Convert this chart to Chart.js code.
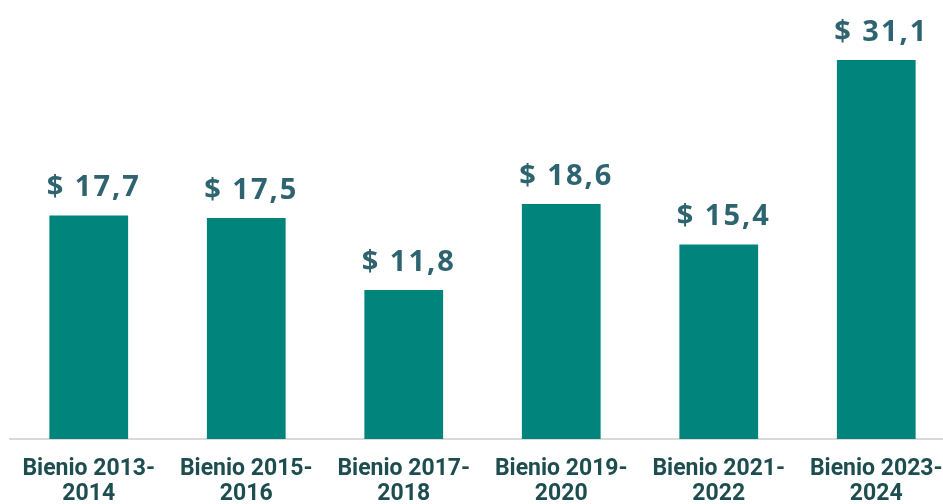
<!DOCTYPE html>
<html>
	<head>
		<meta charset="UTF-8">
		<title>Bienios</title>
		<script src="https://cdn.jsdelivr.net/npm/chart.js"></script>
		<style>
			* {padding: 0; margin: 0;}
			body {width: 943px; height: 504px; overflow: hidden; background: #fff;}
		</style>
	</head>
	<body>
		<canvas id="myChart" width="960" height="504"></canvas>
		<script>
			// datos del gráfico
			const bienios = [
				['Bienio 2013-', '2014'],
				['Bienio 2015-', '2016'],
				['Bienio 2017-', '2018'],
				['Bienio 2019-', '2020'],
				['Bienio 2021-', '2022'],
				['Bienio 2023-', '2024']
			];
			const valores = [17.7, 17.5, 11.8, 18.6, 15.4, 31.1];
			const ejeMax = 30;

			// etiquetas "$ 17,7" encima de cada barra
			const etiquetas = {
				id: 'etiquetas',
				afterDatasetsDraw(chart) {
					const ctx = chart.ctx;
					const meta = chart.getDatasetMeta(0);
					ctx.save();
					ctx.font = 'bold 29px "Open Sans"';
					ctx.letterSpacing = '2px';
					ctx.fillStyle = '#2e6470';
					ctx.textAlign = 'center';
					ctx.textBaseline = 'alphabetic';
					meta.data.forEach(function(bar, i) {
						const top = Math.max(bar.y, chart.chartArea.top);
						const txt = '$ ' + valores[i].toFixed(1).replace('.', ',');
						ctx.fillText(txt, bar.x + 5, top - 19);
					});
					ctx.restore();
				}
			};

			new Chart(document.getElementById('myChart'), {
				type: 'bar',
				data: {
					labels: bienios,
					datasets: [{
						data: valores,
						backgroundColor: '#01847c',
						barPercentage: 0.5,
						categoryPercentage: 1,
						clip: 0
					}]
				},
				options: {
					responsive: false,
					animation: false,
					layout: {padding: {left: 10, right: 5, top: 60, bottom: 0}},
					plugins: {legend: {display: false}, tooltip: {enabled: false}},
					scales: {
						x: {
							grid: {display: false, drawTicks: false},
							border: {display: true, color: '#d9d9d9', width: 2},
							ticks: {
								color: '#1d4d4f',
								font: {family: 'Roboto', weight: 'bold', size: 23, lineHeight: 1.12},
								padding: 17,
								maxRotation: 0,
								autoSkip: false
							},
							afterFit: function(scale) {
								scale.height = 65;
								scale.paddingLeft = 0;
								scale.paddingRight = 0;
							}
						},
						y: {
							display: false,
							min: 0,
							max: ejeMax
						}
					}
				},
				plugins: [etiquetas]
			});
		</script>
	</body>
</html>
